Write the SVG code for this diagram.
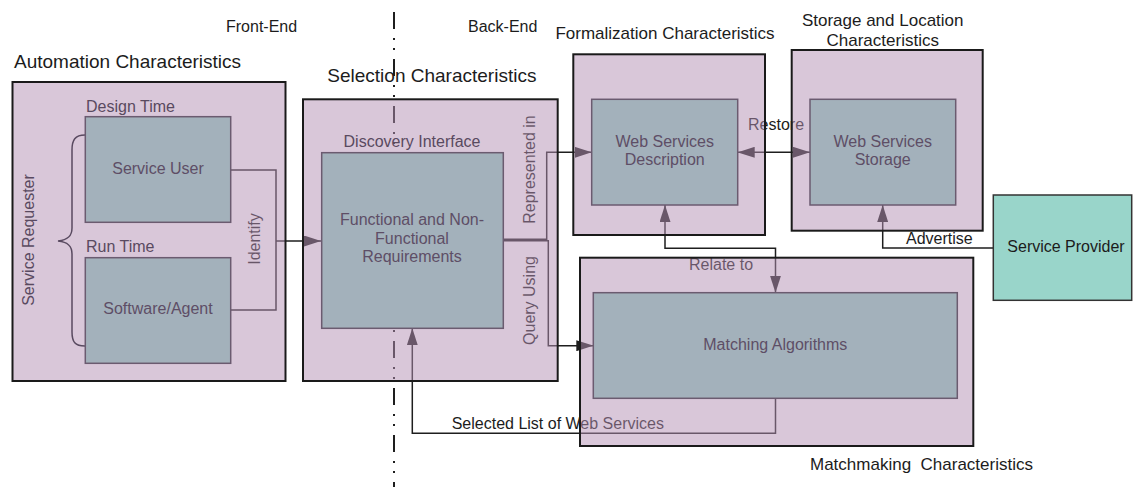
<svg xmlns="http://www.w3.org/2000/svg" width="1133" height="487" viewBox="0 0 1133 487">
  <style>
    text { font-family: "Liberation Sans", Arial, sans-serif; }
    .title { font-size: 17px; fill: #1c1c1c; }
    .big { font-size: 19px; fill: #1c1c1c; }
    .lbl { font-size: 16px; fill: #1c1c1c; }
    .inner-lbl { font-size: 16px; fill: #594a60; }
    .box-text { font-size: 16px; fill: #5e4e66; text-anchor: middle; }
    .outer { fill: #b38fb3; fill-opacity: 0.5; stroke: #1a1a1a; stroke-width: 2; }
    .inner { fill: #a3b1bb; stroke: #6b5b70; stroke-width: 1.5; }
    .conn { fill: none; stroke: #1e1e1e; stroke-width: 1.5; }
    .divider { fill: none; stroke: #1e1e1e; stroke-width: 2; stroke-dasharray: 17 9 2 8 2 9; }
  </style>
  <defs>
    <marker id="ah" viewBox="0 0 17 11" refX="17" refY="5.5" markerWidth="17" markerHeight="11" markerUnits="userSpaceOnUse" orient="auto-start-reverse">
      <path d="M0,0 L17,5.5 L0,11 z" fill="#1e1e1e"/>
    </marker>
  </defs>
  <rect width="1133" height="487" fill="#ffffff"/>

  <!-- front-end / back-end split -->
  <g id="split">
    <line class="divider" x1="394" y1="12" x2="394" y2="487" stroke-dashoffset="0"/>
    <text class="lbl" x="226" y="31.5">Front-End</text>
    <text class="lbl" x="468" y="31.5">Back-End</text>
  </g>

  <!-- connectors (drawn beneath the translucent characteristic panels) -->
  <g id="connectors">
    <path class="conn" d="M231,170 H276 V310 H231"/>
    <path class="conn" d="M276,241 H321" stroke-width="3" marker-end="url(#ah)"/>
    <text class="lbl" transform="translate(259.5,239) rotate(-90)" text-anchor="middle" font-size="15">Identify</text>

    <path class="conn" d="M503,239.3 H546.7 V152.3 H591.7" marker-end="url(#ah)"/>
    <text class="lbl" transform="translate(534.5,169.5) rotate(-90)" text-anchor="middle">Represented in</text>

    <path class="conn" d="M503,240.7 H548.3 V345.7 H593.3" stroke-width="2" marker-end="url(#ah)"/>
    <text class="lbl" transform="translate(534.5,300.5) rotate(-90)" text-anchor="middle">Query Using</text>

    <path class="conn" d="M737.7,152.3 H810" marker-start="url(#ah)" marker-end="url(#ah)"/>
    <text class="lbl" x="748" y="130">Restore</text>

    <path class="conn" d="M665,205 V248.3 H775.5 V292.7" marker-start="url(#ah)" marker-end="url(#ah)"/>
    <text class="lbl" x="689" y="270">Relate to</text>

    <path class="conn" d="M993.3,248 H882.7 V205" marker-end="url(#ah)"/>
    <text class="lbl" x="906" y="243.5">Advertise</text>

    <path class="conn" d="M775.5,398.3 V433.3 H412.3 V328.3" marker-end="url(#ah)"/>
    <text class="lbl" x="451.7" y="429">Selected List of Web Services</text>
  </g>

  <!-- Automation Characteristics -->
  <g id="automation">
    <text class="big" x="14" y="68.3">Automation Characteristics</text>
    <rect class="outer" x="12.5" y="82" width="273" height="299"/>
    <text class="inner-lbl" transform="translate(34.3,240) rotate(-90)" text-anchor="middle">Service Requester</text>
    <path d="M85,135 C75,135 72,140 72,150 V228 C72,236 68,240 58,241 C68,242 72,246 72,254 V332 C72,342 75,346 85,346" fill="none" stroke="#594a60" stroke-width="1.5"/>
    <text class="inner-lbl" x="86" y="111.7">Design Time</text>
    <g id="service-user">
      <rect class="inner" x="85.3" y="116.7" width="145.4" height="105.6"/>
      <text class="box-text" x="158" y="174">Service User</text>
    </g>
    <text class="inner-lbl" x="86" y="252.3">Run Time</text>
    <g id="software-agent">
      <rect class="inner" x="85.3" y="257.7" width="145.4" height="105.6"/>
      <text class="box-text" x="158" y="314">Software/Agent</text>
    </g>
  </g>

  <!-- Selection Characteristics -->
  <g id="selection">
    <text class="big" x="327.3" y="81.7">Selection Characteristics</text>
    <rect class="outer" x="303" y="99.3" width="254.7" height="281.7"/>
    <text class="inner-lbl" x="412" y="147.3" text-anchor="middle">Discovery Interface</text>
    <g id="requirements">
      <rect class="inner" x="321.7" y="152.7" width="181.6" height="175.6"/>
      <text class="box-text" x="412" y="225">Functional and Non-</text>
      <text class="box-text" x="412" y="243.5">Functional</text>
      <text class="box-text" x="412" y="262.3">Requirements</text>
    </g>
  </g>

  <!-- Formalization Characteristics -->
  <g id="formalization">
    <text class="title" x="665" y="39.3" text-anchor="middle">Formalization Characteristics</text>
    <rect class="outer" x="573.3" y="54.3" width="191.7" height="180.7"/>
    <g id="ws-description">
      <rect class="inner" x="591.7" y="99.3" width="146" height="105.7"/>
      <text class="box-text" x="664.7" y="146.7">Web Services</text>
      <text class="box-text" x="664.7" y="165">Description</text>
    </g>
  </g>

  <!-- Storage and Location Characteristics -->
  <g id="storage">
    <text class="title" x="882.7" y="26" text-anchor="middle">Storage and Location</text>
    <text class="title" x="882.7" y="45.7" text-anchor="middle">Characteristics</text>
    <rect class="outer" x="791.7" y="50" width="191" height="180.7"/>
    <g id="ws-storage">
      <rect class="inner" x="810" y="99.3" width="145.7" height="105.7"/>
      <text class="box-text" x="882.7" y="146.7">Web Services</text>
      <text class="box-text" x="882.7" y="165">Storage</text>
    </g>
  </g>

  <!-- Matchmaking Characteristics -->
  <g id="matchmaking">
    <rect class="outer" x="580" y="257.7" width="393.3" height="188.3"/>
    <g id="matching-algorithms">
      <rect class="inner" x="593.3" y="292.7" width="364" height="105.6"/>
      <text class="box-text" x="775.3" y="349.5">Matching Algorithms</text>
    </g>
    <text class="title" x="810" y="470" xml:space="preserve">Matchmaking  Characteristics</text>
  </g>

  <!-- Service Provider -->
  <g id="service-provider">
    <rect x="993.3" y="195" width="138.4" height="105.3" fill="#99d5ca" stroke="#333333" stroke-width="1.5"/>
    <text class="lbl" x="1066" y="252" text-anchor="middle">Service Provider</text>
  </g>
</svg>
